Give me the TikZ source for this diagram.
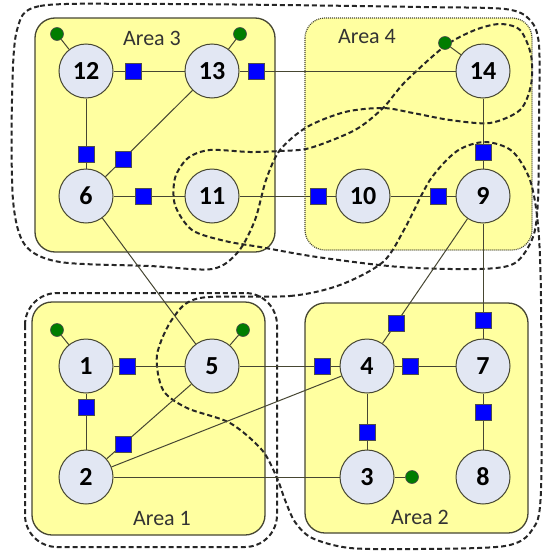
\documentclass[tikz,border=0pt]{standalone}
\usepackage{fontspec}
\setmainfont{Carlito}
\usepackage{tikz}
\usetikzlibrary{positioning}
\definecolor{areaYellow}{RGB}{255,255,160}
\definecolor{busFill}{RGB}{226,231,243}
\definecolor{lineCol}{RGB}{70,70,50}
\definecolor{measBlue}{RGB}{0,0,255}
\definecolor{pmuGreen}{RGB}{0,125,0}

\begin{document}
\begin{tikzpicture}[x=1pt,y=-1pt]

          \tikzstyle{areaBox} = [fill=areaYellow, draw=lineCol, line width=1.3pt, rounded corners=20pt];
          \tikzstyle{areaBoxDot} = [fill=areaYellow, draw=lineCol, line width=1.2pt, dash pattern=on 1pt off 1pt, rounded corners=20pt];
          \tikzstyle{areaLabel} = [font=\fontsize{22}{24}\selectfont, text=black!80];
          \tikzstyle{zoneLine} = [line width=2pt, black!85, dash pattern=on 5pt off 3pt];
          \tikzstyle{busNode} = [circle, draw=lineCol, fill=busFill, line width=1pt, minimum size=54pt, inner sep=0pt, font=\fontsize{26}{28}\selectfont\bfseries];
          \tikzstyle{measNode} = [rectangle, fill=measBlue, draw=black!70, line width=0.6pt, minimum size=16pt, inner sep=0pt];
          \tikzstyle{pmuNode} = [circle, fill=pmuGreen, draw=black!70, line width=0.6pt, minimum size=13pt, inner sep=0pt];
          \tikzstyle{normalEdge} = [lineCol, line width=1pt];

          \useasboundingbox (0,0) rectangle (550,557);

          \draw[areaBox] (35,18) rectangle (275,252);
          \draw[areaBoxDot] (305,18) rectangle (532,250);
          \draw[areaBox] (32,302) rectangle (265,535);
          \draw[areaBox] (305,303) rectangle (528,533);

          \node[areaLabel] (lblThree) at (152,38) {Area 3};
          \node[areaLabel] (lblFour) at (367,37) {Area 4};
          \node[areaLabel] (lblOne) at (162,518) {Area 1};
          \node[areaLabel] (lblTwo) at (420,517) {Area 2};

          \draw[zoneLine, rounded corners=32pt] (25,293) rectangle (277,547);
          \draw[zoneLine] plot[smooth cycle] coordinates {(200,298) (290,296) (340,285) (383,262) (405,228) (430,180) (457,151) (485,142) (512,151) (530,180) (538,225) (541,300) (541,490) (532,530) (505,546) (420,549) (350,548) (312,538) (295,522) (285,500) (277,478) (262,450) (230,423) (187,408) (163,390) (157,355) (173,318)};
          \draw[zoneLine] plot[smooth cycle] coordinates {(17,30) (40,6) (150,4) (280,5) (420,7) (505,9) (530,20) (539,45) (539,120) (538,200) (533,237) (515,263) (480,269) (400,267) (317,257) (260,247) (225,241) (192,230) (175,205) (175,178) (188,158) (210,150) (250,152) (280,151) (310,148) (355,130) (383,108) (405,82) (445,46) (475,30) (500,24) (520,30) (531,55) (531,85) (520,110) (490,123) (450,120) (413,113) (383,108) (345,112) (307,127) (280,150) (266,180) (255,220) (238,252) (212,269) (150,266) (60,262) (25,245) (13,200) (12,100)};

          \node[busNode] (b12) at (86,71) {12};
          \node[busNode] (b13) at (212,71) {13};
          \node[busNode] (b14) at (483,71) {14};
          \node[busNode] (b6) at (86,196) {6};
          \node[busNode] (b11) at (212,196) {11};
          \node[busNode] (b10) at (363,196) {10};
          \node[busNode] (b9) at (483,196) {9};
          \node[busNode] (b1) at (86,366) {1};
          \node[busNode] (b5) at (212,366) {5};
          \node[busNode] (b4) at (367,366) {4};
          \node[busNode] (b7) at (483,366) {7};
          \node[busNode] (b2) at (86,477) {2};
          \node[busNode] (b3) at (367,477) {3};
          \node[busNode] (b8) at (483,477) {8};

          \node[pmuNode] (g12) at (57,34) {};
          \node[pmuNode] (g13) at (240,34) {};
          \node[pmuNode] (g14) at (445,43) {};
          \node[pmuNode] (g1) at (57,330) {};
          \node[pmuNode] (g5) at (243,330) {};
          \node[pmuNode] (g3) at (412,477) {};

          \draw[normalEdge] (b12) -- (g12);
          \draw[normalEdge] (b13) -- (g13);
          \draw[normalEdge] (b14) -- (g14);
          \draw[normalEdge] (b1) -- (g1);
          \draw[normalEdge] (b5) -- (g5);
          \draw[normalEdge] (b3) -- (g3);

          \draw[normalEdge] (b12) -- node[measNode, pos=0.28] (m1213) {} (b13);
          \draw[normalEdge] (b13) -- node[measNode, pos=0.08] (m1314) {} (b14);
          \draw[normalEdge] (b12) -- node[measNode, pos=0.79] (m126) {} (b6);
          \draw[normalEdge] (b13) -- node[measNode, pos=0.8] (m136) {} (b6);
          \draw[normalEdge] (b6) -- node[measNode, pos=0.42] (m611) {} (b11);
          \draw[normalEdge] (b11) -- node[measNode, pos=0.825] (m1110) {} (b10);
          \draw[normalEdge] (b10) -- node[measNode, pos=0.74] (m109) {} (b9);
          \draw[normalEdge] (b14) -- node[measNode, pos=0.775] (m149) {} (b9);
          \draw[normalEdge] (b6) -- (b5);
          \draw[normalEdge] (b1) -- node[measNode, pos=0.19] (m15) {} (b5);
          \draw[normalEdge] (b1) -- node[measNode, pos=0.25] (m12) {} (b2);
          \draw[normalEdge] (b5) -- node[measNode, pos=0.8] (m52) {} (b2);
          \draw[normalEdge] (b2) -- (b4);
          \draw[normalEdge] (b2) -- (b3);
          \draw[normalEdge] (b5) -- node[measNode, pos=0.83] (m54) {} (b4);
          \draw[normalEdge] (b9) -- node[measNode, pos=0.84] (m94) {} (b4);
          \draw[normalEdge] (b4) -- node[measNode, pos=0.26] (m47) {} (b7);
          \draw[normalEdge] (b9) -- node[measNode, pos=0.84] (m97) {} (b7);
          \draw[normalEdge] (b4) -- node[measNode, pos=0.7] (m43) {} (b3);
          \draw[normalEdge] (b7) -- node[measNode, pos=0.33] (m78) {} (b8);
        \end{tikzpicture}
\end{document}
